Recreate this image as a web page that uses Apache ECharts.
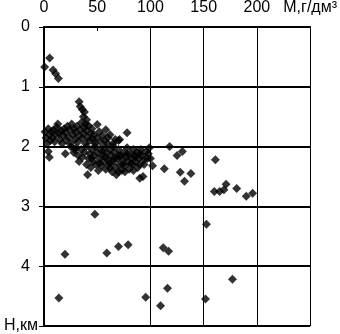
<!DOCTYPE html>
<html><head><meta charset="utf-8">
<script src="https://cdn.jsdelivr.net/npm/echarts@6/dist/echarts.min.js"></script>
<style>html,body{margin:0;padding:0;background:#fff}#c{width:340px;height:334px}</style>
</head><body><div id="c"></div>
<script>
// M, g/dm3 (x) vs H, km (y)
const xTicks = [0, 50, 100, 150, 200, 250];
const yTicks = [0, 1, 2, 3, 4, 5];
const xGridValues = [100, 150, 200, 250];
const xAxisName = 'M,г/дм³';
const yAxisName = 'Н,км';

const shallowPoints = [[5.3,0.52],[0.6,0.67],[8.5,0.72],[11,0.78],[13.5,0.86]];
const chainPoints = [[33,1.25],[34,1.33],[36,1.38],[38,1.42],[37,1.5],[40,1.55],[39,1.62]];
const upperBand = [[1,1.75],[2,1.85],[3,1.95],[4,1.7],[5,1.8],[6,1.9],[7,1.75],[8,1.85],[9,1.72],[10,1.92],[11,1.8],[12,1.68],[13,1.62],[14,1.78],[15,1.88],[16,1.73],[17,1.95],[18,1.82],[19,1.7],[20,1.76],[21,1.9],[22,1.66],[23,1.84],[24,1.72],[25,1.95],[26,1.62],[27,1.8],[28,1.7],[29,1.88],[30,1.76],[31,1.66],[32,1.92],[33,1.82],[34,1.72],[35,1.6],[36,1.86],[37,1.78],[38,1.68],[39,1.95],[40,1.74],[41,1.84],[42,1.65],[43,1.9],[44,1.78],[45,1.7],[46,1.88],[47,1.8],[48,1.95],[50,1.63],[50,1.85],[52,1.75],[53,1.92],[55,1.82],[57,1.9],[58,1.72],[60,1.85],[62,1.8],[65,1.95],[67,1.88],[70,1.9],[78,1.77],[71,1.88],[60,1.95],[65,2.0]];
const lowerBlock = [[4,2.08],[5,2.18],[20,2.12],[29,2.05],[25,2.0],[28,2.1],[30,2.02],[32,2.15],[33,2.25],[35,2.05],[36,2.18],[38,2.1],[40,2.0],[40,2.3],[41,2.47],[42,2.2],[43,2.12],[44,2.35],[45,2.05],[46,2.25],[47,2.15],[48,2.0],[49,2.3],[50,2.1],[51,2.4],[52,2.2],[53,2.05],[54,2.32],[55,2.15],[56,2.25],[57,2.0],[58,2.38],[59,2.1],[60,2.22],[61,2.3],[62,2.05],[63,2.15],[64,2.42],[65,2.25],[66,2.1],[67,2.35],[68,2.47],[69,2.2],[70,2.05],[71,2.3],[72,2.15],[73,2.4],[74,2.22],[75,2.1],[76,2.32],[77,2.18],[78,2.02],[79,2.25],[80,2.38],[81,2.12],[82,2.2],[83,2.3],[84,2.05],[85,2.15],[86,2.25],[87,2.1],[88,2.35],[89,2.2],[90,2.3],[91,2.05],[92,2.15],[94,2.22],[96,2.08],[97,2.2],[99,2.02],[93,2.5],[90,2.53],[102,2.32],[113,2.37],[58,2.18],[62,2.28],[66,2.2],[70,2.15],[74,2.3],[78,2.12],[82,2.28],[86,2.18],[90,2.12],[94,2.3],[98,2.12],[100,2.2],[76,2.42],[84,2.4],[62,2.36],[70,2.42],[55,2.08],[45,2.2],[52,2.28]];
const rightPoints = [[118,2.0],[125,2.15],[130,2.08],[128,2.43],[138,2.45],[132,2.58],[161,2.22],[160,2.75],[165,2.75],[171,2.63],[169,2.72],[181,2.7],[190,2.83],[196,2.78]];
const deepPoints = [[47.8,3.13],[19.7,3.8],[59,3.78],[70,3.67],[79,3.64],[112,3.69],[117,3.75],[152.6,3.3],[14,4.53],[95.5,4.52],[109.5,4.66],[116,4.37],[151.7,4.55],[177,4.22]];

const allPoints = [].concat(shallowPoints, chainPoints, upperBand, lowerBlock, rightPoints, deepPoints);

const chart = echarts.init(document.getElementById('c'), null, {renderer:'canvas'});
const font = {fontFamily:'Liberation Sans', fontSize:16, color:'#000'};
chart.setOption({
  animation:false,
  grid:{left:44, top:27, right:29, bottom:8, containLabel:false},
  xAxis:{
    type:'value', position:'top', min:xTicks[0], max:xTicks[xTicks.length-1], interval:50,
    axisLine:{show:true, lineStyle:{color:'#000', width:2}},
    axisTick:{show:true, inside:true, length:4, lineStyle:{color:'#000', width:1}},
    axisLabel:Object.assign({margin:11, formatter:v => v===250 ? xAxisName : String(v)}, font),
    splitLine:{show:false}
  },
  yAxis:{
    type:'value', inverse:true, min:yTicks[0], max:yTicks[yTicks.length-1], interval:1,
    axisLine:{show:true, lineStyle:{color:'#000', width:2}},
    axisTick:{show:true, length:5, lineStyle:{color:'#000', width:1}},
    axisLabel:Object.assign({margin:6, formatter:v => v===5 ? '{u|'+yAxisName+'}' : '{d|'+v+'}',
      rich:{d:Object.assign({padding:[0,8,0,0]}, font), u:Object.assign({}, font)}}, font),
    splitLine:{show:true, lineStyle:{color:'#000', width:2}}
  },
  series:[{
    type:'scatter', symbol:'diamond', symbolSize:9,
    itemStyle:{color:'#000'},
    data:allPoints,
    markLine:{silent:true, symbol:'none', label:{show:false},
      lineStyle:{color:'#000', width:1, type:'solid'},
      data:xGridValues.map(v => ({xAxis:v}))}
  }]
});
</script></body></html>
